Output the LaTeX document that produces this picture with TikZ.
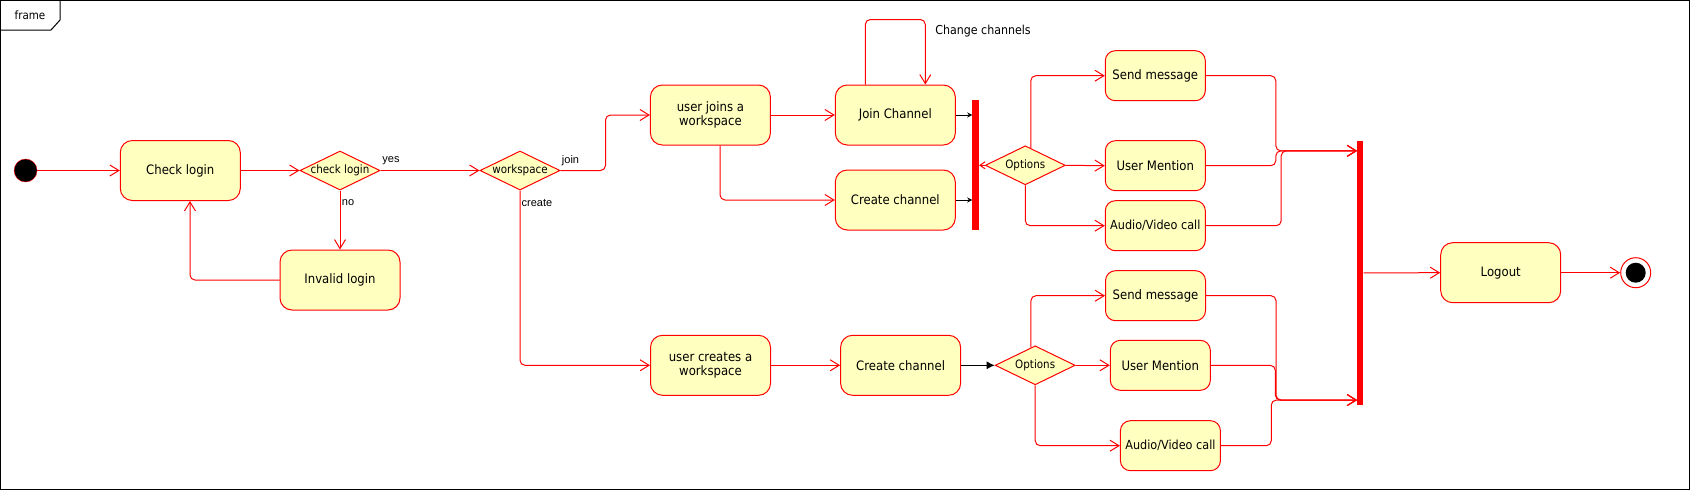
\documentclass[tikz,border=0pt]{standalone}
\usepackage{fontspec}
\setmainfont{DejaVu Sans}[FakeStretch=0.9]
\newfontfamily\lblfont{Liberation Sans}
\usetikzlibrary{arrows.meta,calc,shapes.geometric}
\definecolor{ured}{RGB}{255,0,0}
\definecolor{ufill}{RGB}{255,255,192}
\tikzset{
  act/.style={draw=ured,fill=ufill,rounded corners=12pt,minimum width=120pt,minimum height=60pt,inner sep=0pt,align=center,font=\fontsize{13}{14.5}\selectfont,line width=1pt},
  opt/.style={act,minimum width=100pt,minimum height=50pt,rounded corners=10pt},
  dia/.style={draw=ured,fill=ufill,diamond,minimum width=80pt,minimum height=39pt,inner sep=0pt,line width=1pt},
  dtext/.style={font=\fontsize{11.5}{13}\selectfont,inner sep=0pt},
  flow/.style={draw=ured,line width=1pt,-{Straight Barb[length=9pt,width=11pt]},rounded corners=5pt},
  smallflow/.style={draw=ured,line width=1pt,-{Straight Barb[length=5pt,width=7pt]}},
  forkbar/.style={fill=ured,draw=none,inner sep=0pt,rectangle},
  elbl/.style={font=\lblfont\fontsize{11}{13}\selectfont,inner sep=0pt},
  blk/.style={draw=black,line width=1pt,-{Stealth[length=5pt,width=5pt]}},
  blkfill/.style={draw=black,line width=1pt,-{Latex[length=8pt,width=8pt]}},
}
\begin{document}
\begin{tikzpicture}[x=1pt,y=-1pt]
\useasboundingbox (0,0) rectangle (1691,491);
% frame
\draw[line width=1pt] (0.5,0.5) rectangle (1689.5,489.5);
\draw[line width=1pt] (0.5,30) -- (51,30) -- (60,20) -- (60,0.5);
\node[font=\fontsize{11.5}{13}\selectfont,inner sep=0pt] (frametab) at (30,15) {frame};

% nodes
\node[circle,fill=black,draw=ured,minimum size=23pt,inner sep=0pt] (start) at (25.6,170.5) {};
\node[act] (checklogin) at (180.3,170.5) {Check login};
\node[dia,label={[dtext]center:check login}] (d1) at (340,170.5) {};
\node[act] (invalid) at (340,280) {Invalid login};
\node[dia,label={[dtext]center:workspace}] (ws) at (520,170.5) {};
\node[act] (ujoin) at (710.4,115) {user joins a\\workspace};
\node[act] (joinch) at (895.3,115) {Join Channel};
\node[act] (cch1) at (895.3,200) {Create channel};
\node[forkbar,minimum width=6.5pt,minimum height=130pt] (bar1) at (975.7,165) {};
\node[dia,label={[dtext]center:Options}] (opt1) at (1025.3,165.3) {};
\node[opt] (send1) at (1155.3,75.7) {Send message};
\node[opt] (um1) at (1155.3,165.7) {User Mention};
\node[opt,font=\fontsize{12.5}{14}\selectfont] (av1) at (1155.3,225.7) {Audio/Video call};
\node[forkbar,minimum width=6pt,minimum height=264.3pt] (bar2) at (1360.3,272.85) {};
\node[act] (logout) at (1500.7,272.7) {Logout};
\node[circle,draw=ured,fill=white,minimum size=30pt,inner sep=0pt,line width=1pt] (endc) at (1635.7,272.7) {};
\fill[black] (endc.center) circle (10pt);

\node[act] (ucreate) at (710.5,365.3) {user creates a\\workspace};
\node[act] (cch2) at (900.6,365.3) {Create channel};
\node[dia,label={[dtext]center:Options}] (opt2) at (1035.2,365.3) {};
\node[opt] (send2) at (1155.5,295.7) {Send message};
\node[opt] (um2) at (1160.3,365.3) {User Mention};
\node[opt,font=\fontsize{12.5}{14}\selectfont] (av2) at (1170.4,445.7) {Audio/Video call};

% edge labels
\node[elbl] (lyes) at (391,161) {yes};
\node[elbl] (lno) at (348,203) {no};
\node[elbl] (ljoin) at (570.5,161) {join};
\node[elbl] (lcreate) at (537,203) {create};
\node[font=\fontsize{12.3}{14}\selectfont,inner sep=0pt] (lchange) at (983,30.7) {Change channels};

% connectors
\draw[flow] (start) -- (checklogin.west);
\draw[flow] (checklogin.east) -- (d1.west);
\draw[flow] (d1.east) -- (ws.west);
\draw[flow] (d1.south) -- (invalid.north);
\draw[flow] (invalid.west) -| ($(checklogin.south)+(9.7,0)$);
\draw[flow] (ws.east) -- ++(45,0) |- (ujoin.west);
\draw[flow] (ws.south) |- (ucreate.west);
\draw[flow] (ujoin.east) -- (joinch.west);
\draw[flow] ($(ujoin.south)+(9.6,0)$) |- (cch1.west);
\draw[flow] ($(joinch.north)+(-30,0)$) -- ++(0,-65) -| ($(joinch.north)+(30,0)$);
\draw[blk] (joinch.east) -- (joinch.east -| bar1.west);
\draw[blk] (cch1.east) -- (cch1.east -| bar1.west);
\draw[smallflow] (opt1.west) -- (opt1.west -| bar1.east);
\draw[flow] ($(opt1.north)!0.135!(opt1.east)$) |- (send1.west);
\draw[flow] (opt1.east) -- (um1.west);
\draw[flow] (opt1.south) |- (av1.west);
\draw[flow] (send1.east) -- ++(70,0) |- ([yshift=122pt]bar2.west);
\draw[flow] (um1.east) -- ++(70,0) |- ([yshift=122pt]bar2.west);
\draw[flow] (av1.east) -- ++(75.4,0) |- ([yshift=122pt]bar2.west);
\draw[flow] (send2.east) -- ++(70,0) |- ([yshift=-127.2pt]bar2.west);
\draw[flow] (um2.east) -- ++(64.5,0) |- ([yshift=-127.2pt]bar2.west);
\draw[flow] (av2.east) -- ++(50.4,0) |- ([yshift=-127.2pt]bar2.west);
\draw[flow] (bar2.east) -- (logout.west);
\draw[flow] (logout.east) -- (endc.west);
\draw[flow] (ucreate.east) -- (cch2.west);
\draw[blkfill] (cch2.east) -- (opt2.west);
\draw[flow] ($(opt2.north)!0.105!(opt2.west)$) |- (send2.west);
\draw[flow] (opt2.east) -- (um2.west);
\draw[flow] (opt2.south) |- (av2.west);
\end{tikzpicture}
\end{document}
